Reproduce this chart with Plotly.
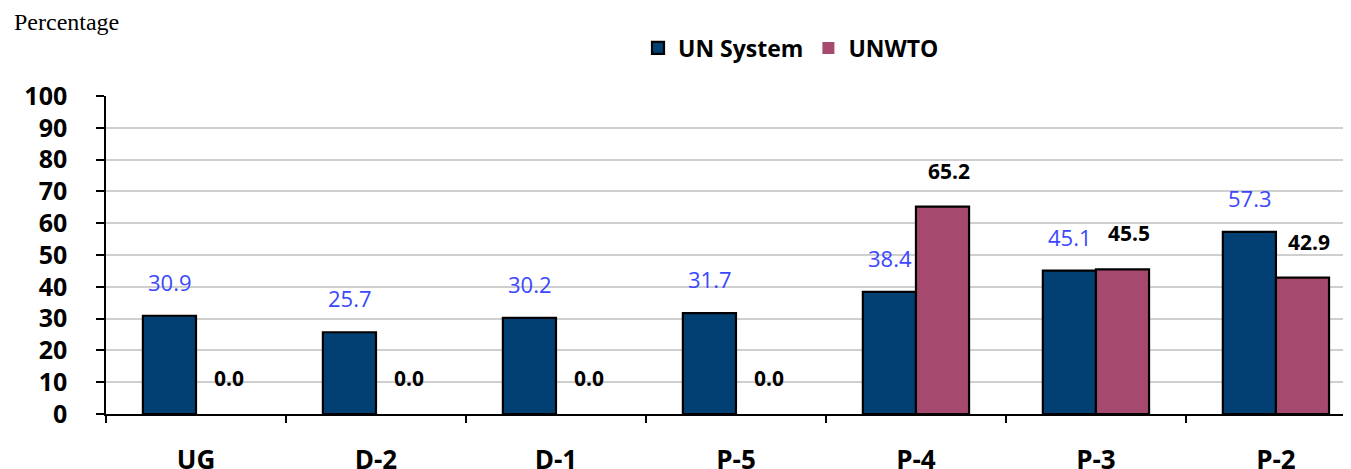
import plotly.graph_objects as go

categories = ["UG", "D-2", "D-1", "P-5", "P-4", "P-3", "P-2"]
un_system = [30.9, 25.7, 30.2, 31.7, 38.4, 45.1, 57.3]
unwto = [0.0, 0.0, 0.0, 0.0, 65.2, 45.5, 42.9]
y_ticks = list(range(0, 101, 10))

BLUE = "#023f73"
PINK = "#a6496f"
LABEL_BLUE = "#3a47ff"
FONT = "Open Sans"

# page body has an 8px margin, so the figure is drawn 8px right/down
W, H = 1343, 461
ML, MT, MB, MR = 98, 88, 55, 0
plot_w = W - ML - MR
plot_h = H - MT - MB

fig = go.Figure()
fig.add_trace(go.Bar(name="<b>UN System</b>", x=categories, y=un_system,
                     marker=dict(color=BLUE, line=dict(color="black", width=2.2))))
fig.add_trace(go.Bar(name="<b>UNWTO</b>", x=categories, y=unwto,
                     marker=dict(color=PINK, line=dict(color="black",
                                 width=[2.2 if v > 0 else 0 for v in unwto]))))

annotations = []
for c, v in zip(categories, un_system):
    annotations.append(dict(x=c, y=v, xref="x", yref="y", text=f"{v:.1f}",
                            showarrow=False, xshift=-26, yshift=34,
                            font=dict(family=FONT, size=22, color=LABEL_BLUE)))
for c, v in zip(categories, unwto):
    annotations.append(dict(x=c, y=v, xref="x", yref="y", text=f"<b>{v:.1f}</b>",
                            showarrow=False, xshift=33, yshift=36,
                            font=dict(family=FONT, size=21, color="black")))
annotations.append(dict(x=(4 - ML) / plot_w, y=(plot_h + MT - 14) / plot_h,
                        xref="paper", yref="paper", text="Percentage",
                        showarrow=False, xanchor="left", yanchor="middle",
                        font=dict(family="Liberation Serif", size=24, color="black")))

fig.update_layout(
    width=W, height=H,
    margin=dict(l=ML, r=MR, t=MT, b=MB),
    paper_bgcolor="white", plot_bgcolor="white",
    barmode="group", bargap=0.41, bargroupgap=0,
    showlegend=True,
    legend=dict(orientation="h", x=(630 - ML) / plot_w, xanchor="left",
                y=(plot_h + MT - 40) / plot_h, yanchor="middle",
                font=dict(family=FONT, size=23, color="black"),
                traceorder="normal"),
    xaxis=dict(type="category", range=[-0.5, 6.417], showline=True, linecolor="black",
               linewidth=1.5, ticks="outside", tickson="boundaries", ticklen=7,
               tickcolor="black", tickwidth=1.5, automargin=False,
               tickfont=dict(family=FONT, size=26, color="black"),
               ticklabelstandoff=22, showgrid=False),
    yaxis=dict(range=[0, 100], tickvals=y_ticks,
               ticktext=[f"<b>{t}</b>" for t in y_ticks],
               showline=True, linecolor="black", linewidth=1.5, automargin=False,
               ticks="outside", ticklen=8, tickcolor="black", tickwidth=1.5,
               tickfont=dict(family=FONT, size=25, color="black"),
               ticklabelstandoff=24,
               showgrid=True, gridcolor="#cfcfcf", gridwidth=1.5, zeroline=False),
    annotations=annotations,
)
fig.update_xaxes(ticktext=[f"<b>{c}</b>" for c in categories], tickvals=categories)
fig.write_html("out.html")
